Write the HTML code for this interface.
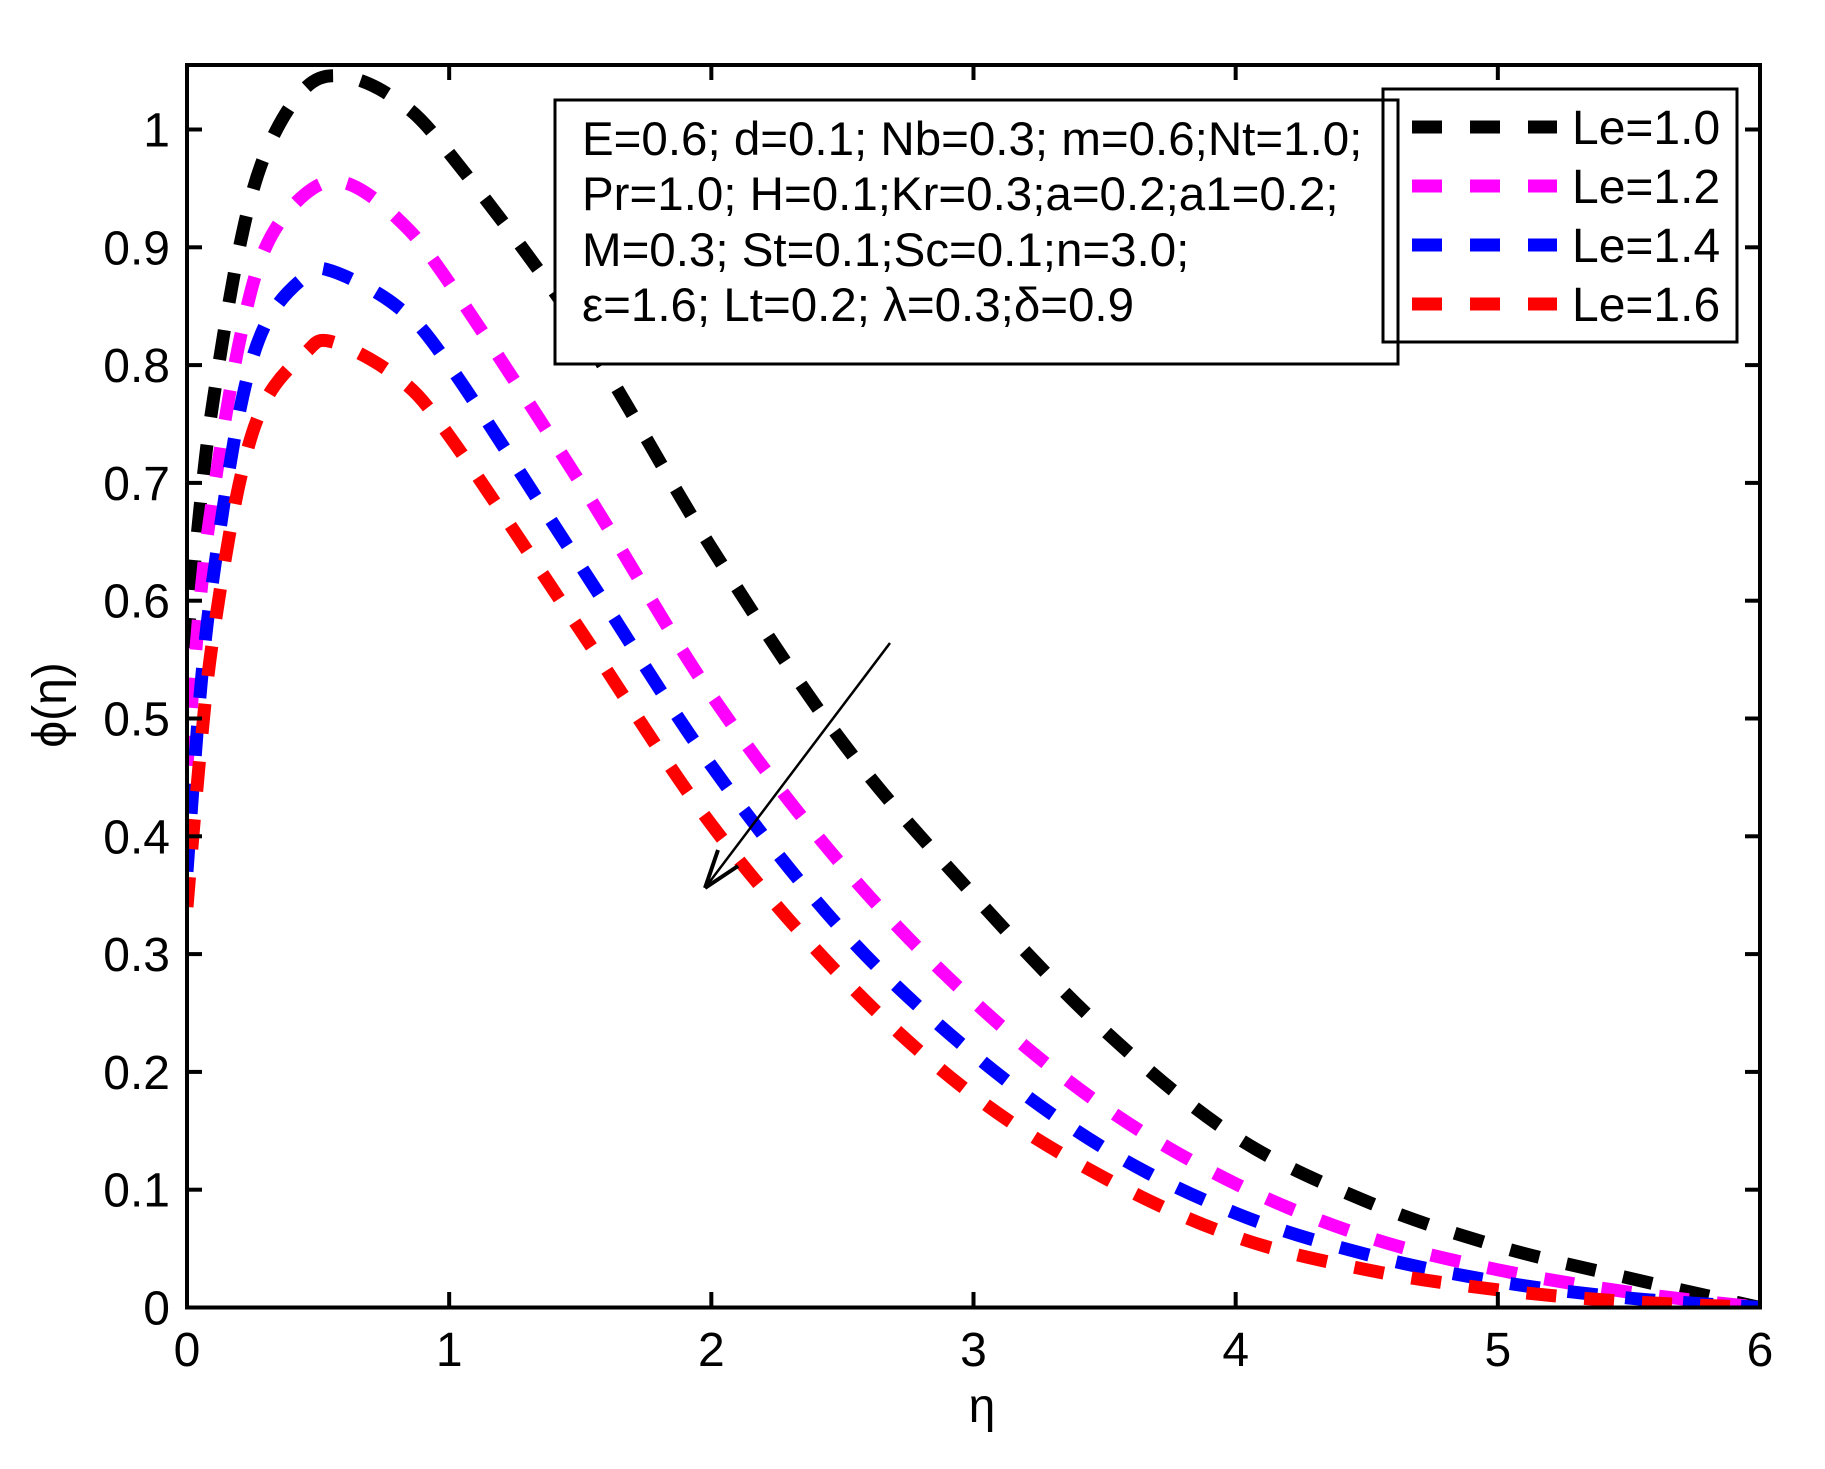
<!DOCTYPE html>
<html><head><meta charset="utf-8"><style>
html,body{margin:0;padding:0;background:#fff}
svg{display:block}
text{font-family:"Liberation Sans",sans-serif;fill:#000}
</style></head><body>
<svg id="s" width="1825" height="1469" viewBox="0 0 1825 1469" xmlns="http://www.w3.org/2000/svg">
<defs><clipPath id="c"><rect x="187" y="65" width="1573" height="1243"/></clipPath></defs>
<rect width="1825" height="1469" fill="#fff"/>
<g id="curves" clip-path="url(#c)"></g>
<rect x="187" y="65" width="1573" height="1242.5" fill="none" stroke="#000" stroke-width="4"/>
<g id="ticks" stroke="#000" stroke-width="4"></g>
<g id="labels" font-size="48"></g>
<text x="982" y="1422" font-size="48" text-anchor="middle">η</text>
<text transform="translate(66,705) rotate(-90)" font-size="48" text-anchor="middle">ϕ(η)</text>
<!-- arrow -->
<line x1="890" y1="643" x2="705" y2="888" stroke="#000" stroke-width="2.5"/>
<line x1="705" y1="888" x2="718" y2="850" stroke="#000" stroke-width="4"/>
<line x1="705" y1="888" x2="738" y2="866" stroke="#000" stroke-width="4"/>
<!-- parameter box -->
<rect x="555" y="100" width="843" height="264" fill="#fff" stroke="#000" stroke-width="3"/>
<g font-size="47.5">
<text x="582" y="155">E=0.6; d=0.1; Nb=0.3; m=0.6;Nt=1.0;</text>
<text x="582" y="210">Pr=1.0; H=0.1;Kr=0.3;a=0.2;a1=0.2;</text>
<text x="582" y="266">M=0.3; St=0.1;Sc=0.1;n=3.0;</text>
<text x="582" y="321">ε=1.6; Lt=0.2; λ=0.3;δ=0.9</text>
</g>
<!-- legend -->
<rect x="1383" y="89" width="354" height="253" fill="none" stroke="#000" stroke-width="3"/>
<g stroke-width="13" stroke-dasharray="30 28">
<line x1="1412" y1="127" x2="1557" y2="127" stroke="#000"/>
<line x1="1412" y1="186" x2="1557" y2="186" stroke="#ff00ff"/>
<line x1="1412" y1="245" x2="1557" y2="245" stroke="#0000ff"/>
<line x1="1412" y1="304" x2="1557" y2="304" stroke="#ff0000"/>
</g>
<g font-size="48">
<text x="1572" y="144">Le=1.0</text>
<text x="1572" y="203">Le=1.2</text>
<text x="1572" y="262">Le=1.4</text>
<text x="1572" y="321">Le=1.6</text>
</g>
</svg>
<script>
var NS="http://www.w3.org/2000/svg";
function X(e){return 187+262.1667*e;}
function Y(v){return 1307.5-1178*v;}
var series=[
["#000",[[0,0.56],[0.05,0.68],[0.1,0.77],[0.2,0.9],[0.3,0.98],[0.45,1.035],[0.6,1.045],[0.8,1.025],[1,0.98],[1.5,0.83],[2,0.645],[2.5,0.48],[3,0.35],[3.5,0.235],[4,0.145],[4.5,0.09],[5,0.052],[5.5,0.025],[6,0]]],
["#ff00ff",[[0,0.46],[0.05,0.6],[0.1,0.69],[0.2,0.82],[0.3,0.9],[0.45,0.945],[0.6,0.955],[0.8,0.925],[1,0.87],[1.5,0.7],[2,0.52],[2.5,0.375],[3,0.26],[3.5,0.17],[4,0.105],[4.5,0.06],[5,0.032],[5.5,0.013],[6,0]]],
["#0000ff",[[0,0.37],[0.05,0.52],[0.1,0.62],[0.2,0.76],[0.3,0.835],[0.45,0.875],[0.55,0.88],[0.8,0.85],[1,0.8],[1.5,0.63],[2,0.46],[2.5,0.32],[3,0.215],[3.5,0.135],[4,0.08],[4.5,0.045],[5,0.022],[5.5,0.008],[6,0]]],
["#ff0000",[[0,0.34],[0.05,0.47],[0.1,0.57],[0.2,0.7],[0.3,0.77],[0.45,0.81],[0.55,0.82],[0.8,0.79],[1,0.74],[1.5,0.575],[2,0.41],[2.5,0.28],[3,0.18],[3.5,0.11],[4,0.06],[4.5,0.032],[5,0.015],[5.5,0.005],[6,0]]]
];
var g=document.getElementById("curves");
series.forEach(function(s){
 var p=s[1].map(function(q){return [X(q[0]),Y(q[1])];});
 var d="M"+p[0][0]+","+p[0][1];
 for(var i=0;i<p.length-1;i++){
  var p0=p[i-1]||p[i],p1=p[i],p2=p[i+1],p3=p[i+2]||p[i+1];
  var c1=[p1[0]+(p2[0]-p0[0])/6,p1[1]+(p2[1]-p0[1])/6];
  var c2=[p2[0]-(p3[0]-p1[0])/6,p2[1]-(p3[1]-p1[1])/6];
  d+=" C"+c1[0]+","+c1[1]+" "+c2[0]+","+c2[1]+" "+p2[0]+","+p2[1];
 }
 var el=document.createElementNS(NS,"path");
 el.setAttribute("d",d);el.setAttribute("fill","none");el.setAttribute("stroke",s[0]);
 el.setAttribute("stroke-width","13");el.setAttribute("stroke-dasharray","30 28");
 g.appendChild(el);
});
var t=document.getElementById("ticks"),L=document.getElementById("labels");
function line(a,b,c,d){var l=document.createElementNS(NS,"line");l.setAttribute("x1",a);l.setAttribute("y1",b);l.setAttribute("x2",c);l.setAttribute("y2",d);t.appendChild(l);}
function txt(x,y,s,anc){var e=document.createElementNS(NS,"text");e.setAttribute("x",x);e.setAttribute("y",y);e.setAttribute("text-anchor",anc);e.textContent=s;L.appendChild(e);}
for(var i=0;i<=6;i++){var x=X(i);line(x,1307.5,x,1292);line(x,65,x,80);txt(x,1366,""+i,"middle");}
for(var k=0;k<=10;k++){var y=Y(k/10);line(187,y,202,y);line(1760,y,1745,y);txt(170,y+17,k==0?"0":(k==10?"1":"0."+k),"end");}
</script>
</body></html>
